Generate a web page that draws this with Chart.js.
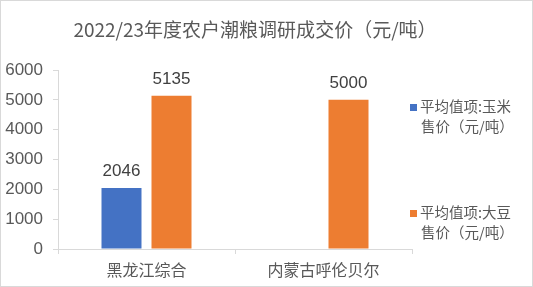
<!DOCTYPE html>
<html>
<head>
<meta charset="utf-8">
<script src="https://cdn.jsdelivr.net/npm/chart.js@4"></script>
<style>
  body { margin: 0; background: #fff; }
  #wrap { position: relative; width: 533px; height: 287px; font-family: "Noto Sans CJK SC", sans-serif; color: #595959; }
  #title { position: absolute; left: 0; width: 510px; top: 16px; text-align: center; font-size: 19px; line-height: 26px; }
  .leg { position: absolute; left: 410px; font-size: 14.5px; line-height: 20px; }
  .leg span.box { display: inline-block; width: 7px; height: 7px; margin-right: 3px; vertical-align: 1px; }
</style>
</head>
<body>
<div id="wrap">
  <canvas id="chart" width="533" height="287"></canvas>
  <div id="title">2022/23年度农户潮粮调研成交价（元/吨）</div>
  <div class="leg" style="top:96px"><div><span class="box" style="background:#4472C4"></span>平均值项:玉米</div><div style="padding-left:11px">售价（元/吨）</div></div>
  <div class="leg" style="top:202px"><div><span class="box" style="background:#ED7D31"></span>平均值项:大豆</div><div style="padding-left:11px">售价（元/吨）</div></div>
</div>
<script>
const categories = ["黑龙江综合", "内蒙古呼伦贝尔"];
const cornPrice = [2046, null];
const soyPrice = [5135, 5000];
const yTicks = [0, 1000, 2000, 3000, 4000, 5000, 6000];

const numFont = '"Liberation Sans", "Noto Sans CJK SC", sans-serif';
const cjkFont = '"Noto Sans CJK SC", sans-serif';

const background = {
    id: 'background',
    beforeDraw(chart) {
        const ctx = chart.ctx;
        ctx.save();
        ctx.fillStyle = '#fff';
        ctx.fillRect(0, 0, chart.width, chart.height);
        ctx.strokeStyle = '#d9d9d9';
        ctx.lineWidth = 1;
        ctx.strokeRect(0.5, 0.5, chart.width - 1, chart.height - 1);
        ctx.restore();
    }
};

const valueLabels = {
    id: 'valueLabels',
    afterDatasetsDraw(chart) {
        const ctx = chart.ctx;
        ctx.save();
        ctx.font = '17px ' + numFont;
        ctx.fillStyle = '#404040';
        ctx.textAlign = 'center';
        ctx.textBaseline = 'bottom';
        chart.data.datasets.forEach((ds, i) => {
            chart.getDatasetMeta(i).data.forEach((bar, j) => {
                const v = ds.data[j];
                if (v == null) return;
                ctx.fillText(String(v), bar.x, bar.y - 8);
            });
        });
        ctx.restore();
    }
};

new Chart(document.getElementById('chart'), {
    type: 'bar',
    data: {
        labels: categories,
        datasets: [
            { label: '平均值项:玉米售价（元/吨）', data: cornPrice, backgroundColor: '#4472C4' },
            { label: '平均值项:大豆售价（元/吨）', data: soyPrice, backgroundColor: '#ED7D31' }
        ]
    },
    options: {
        responsive: false,
        animation: false,
        layout: { padding: { left: 0, right: 121, top: 70, bottom: 0 } },
        datasets: { bar: { categoryPercentage: 0.565, barPercentage: 0.8 } },
        plugins: {
            legend: { display: false },
            title: { display: false },
            tooltip: { enabled: false }
        },
        scales: {
            x: {
                grid: { offset: true, drawOnChartArea: false, tickLength: 5, color: '#d9d9d9' },
                border: { color: '#d9d9d9' },
                ticks: { color: '#595959', font: { family: cjkFont, size: 16 }, padding: 6, maxRotation: 0 },
                afterFit(scale) { scale.height = 38; }
            },
            y: {
                min: 0,
                max: 6000,
                afterBuildTicks(scale) { scale.ticks = yTicks.map(v => ({ value: v })); },
                grid: { drawOnChartArea: false, tickLength: 5, color: '#d9d9d9' },
                border: { color: '#d9d9d9' },
                ticks: {
                    color: '#595959',
                    font: { family: numFont, size: 17 },
                    padding: 10,
                    callback: v => String(v)
                },
                afterFit(scale) { scale.width = 58; }
            }
        }
    },
    plugins: [background, valueLabels]
});
</script>
</body>
</html>
